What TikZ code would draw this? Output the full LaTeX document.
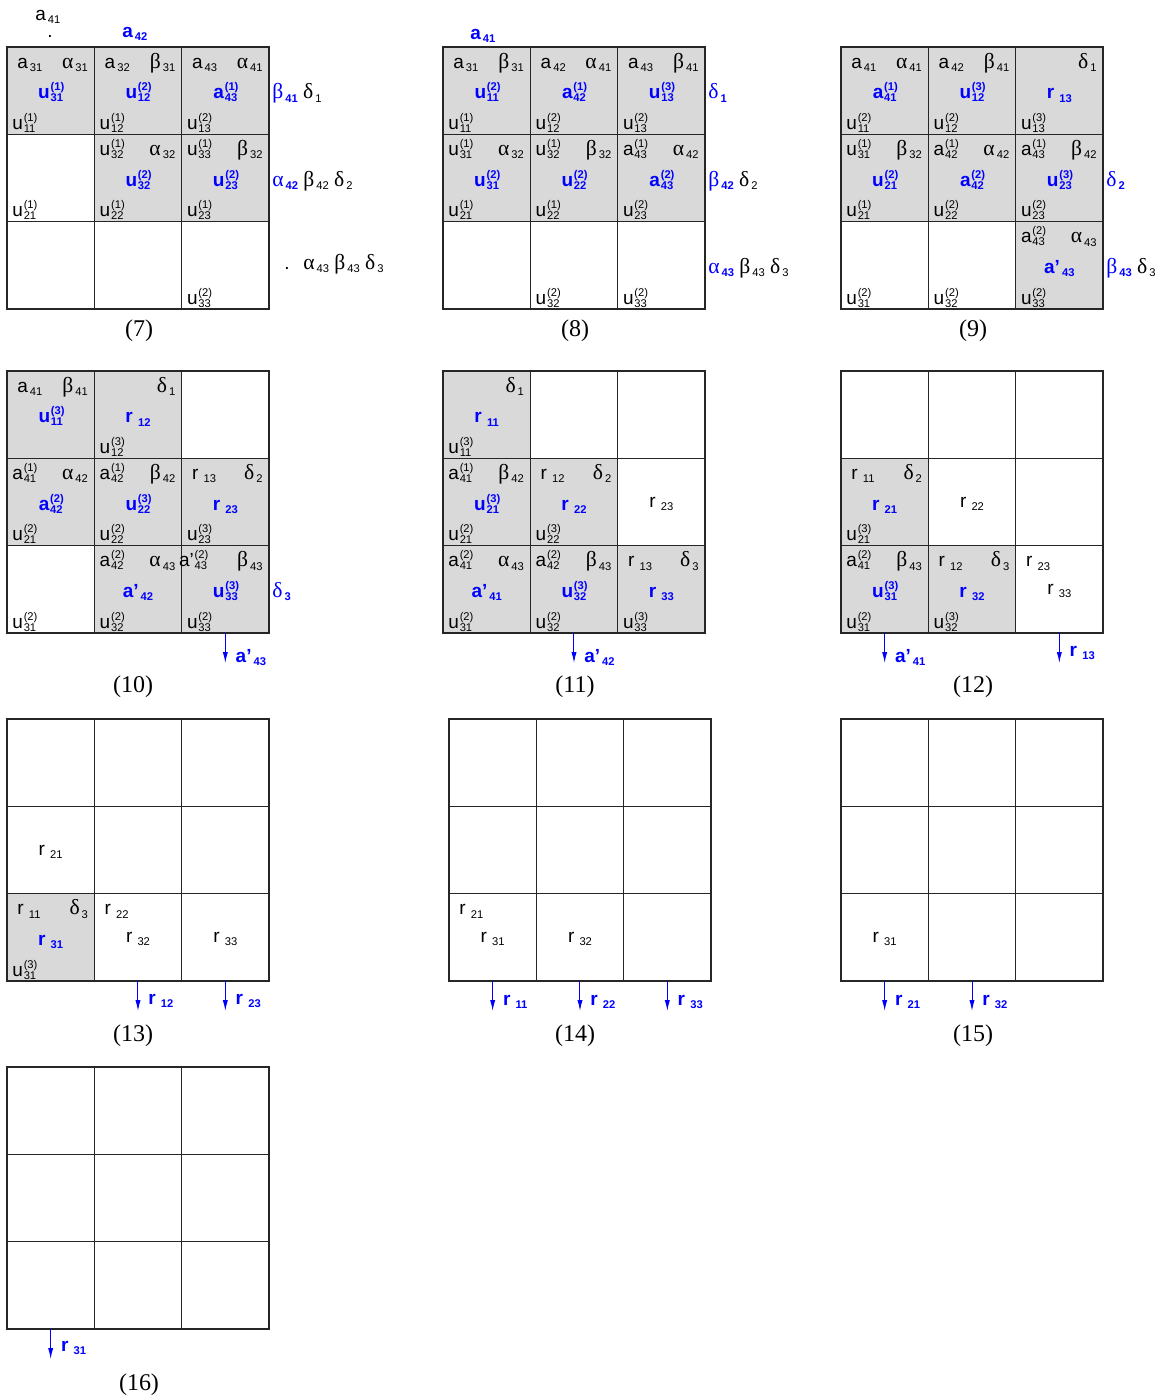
\documentclass[tikz,border=0pt]{standalone}
\usepackage{fontspec}
\setmainfont{Liberation Sans}
\newfontfamily\grkfont{Liberation Serif}
\newfontfamily\capfont{Liberation Serif}
\usetikzlibrary{arrows.meta}

\definecolor{cellgray}{RGB}{217,217,217}
\definecolor{hotblue}{RGB}{0,0,255}

% subscripts, stacked indices, greek letters
\newcommand\subsz{\fontsize{5.6}{6}\selectfont}
\newcommand\lo[1]{\kern1pt\raisebox{-1.8pt}{\subsz #1}}
\newcommand\ud[2]{\kern0.4pt\rlap{\raisebox{4pt}{\subsz(#1)}}\raisebox{-1.5pt}{\subsz #2}}
\newcommand\gk[1]{{\grkfont\fontsize{10.8}{12}\selectfont #1}}
\newcommand\hgk[2]{\textcolor{hotblue}{\gk{#1}\bfseries\lo{#2}}}
\newcommand\rr[1]{r\,\lo{#1}}
\newcommand\ind{\kern2.5pt}

\tikzset{
  cell/.style={draw=black!85, line width=0.65pt, minimum size=43.67pt, inner sep=0pt, outer sep=0pt},
  txt/.style={inner sep=0pt, font=\fontsize{9.5}{10}\selectfont},
  hot/.style={inner sep=0pt, text=hotblue, font=\fontsize{9.5}{10}\selectfont\bfseries},
  stagecap/.style={inner sep=0pt, font=\capfont\fontsize{12}{14}\selectfont},
  outarr/.style={-{Latex[length=5.5pt,width=2.6pt]}, hotblue, line width=0.5pt},
}

% one 3x3 board: name, left, top
\newcommand\grid[3]{%
  \foreach \row in {1,2,3}{\foreach \col in {1,2,3}{%
    \node[cell] (#1-\row\col) at ({#2+(\col-0.5)*87.33},{#3+(\row-0.5)*87.33}) {};}}}
\newcommand\shadecells[2]{\foreach \rc in {#2}{\node[cell, fill=cellgray] at (#1-\rc) {};}}
% texts in a cell
\newcommand\TL[2]{\node[txt, anchor=base west] (#1-tl) at ([shift={(5,21)}]#1.north west) {#2};}
\newcommand\TR[2]{\node[txt, anchor=base east] (#1-tr) at ([shift={(-6,21)}]#1.north east) {#2};}
\newcommand\CT[2]{\node[hot, anchor=base] (#1-ct) at ([shift={(0,8)}]#1.center) {#2};}
\newcommand\CK[2]{\node[txt, anchor=base] (#1-ck) at ([shift={(0,5)}]#1.center) {#2};}
\newcommand\BL[2]{\node[txt, anchor=base west] (#1-bl) at ([shift={(5,-5)}]#1.south west) {#2};}
\newcommand\RT[2]{\node[txt, anchor=base west] (#1-rt) at ([shift={(3,8)}]#1.east) {#2};}
\newcommand\OUT[3]{%
  \coordinate (#1-tip) at ([shift={(0,30)}]#1.south);
  \draw[outarr] (#1.south) -- (#1-tip);
  \node[hot, anchor=base west] (#1-out) at ([shift={(10,#3)}]#1-tip) {#2};}

\begin{document}
\begin{tikzpicture}[x=0.5pt, y=-0.5pt]
\useasboundingbox (0,0) rectangle (1164,1399);

% (7)
\grid{g7}{7}{47}
\shadecells{g7}{11,12,13,22,23}
\TL{g7-11}{\ind a\lo{31}} \TR{g7-11}{\gk{α}\lo{31}} \CT{g7-11}{u\ud{1}{31}} \BL{g7-11}{u\ud{1}{11}}
\TL{g7-12}{\ind a\lo{32}} \TR{g7-12}{\gk{β}\lo{31}} \CT{g7-12}{u\ud{2}{12}} \BL{g7-12}{u\ud{1}{12}}
\TL{g7-13}{\ind a\lo{43}} \TR{g7-13}{\gk{α}\lo{41}} \CT{g7-13}{a\ud{1}{43}} \BL{g7-13}{u\ud{2}{13}}
\BL{g7-21}{u\ud{1}{21}}
\TL{g7-22}{u\ud{1}{32}} \TR{g7-22}{\gk{α}\lo{32}} \CT{g7-22}{u\ud{2}{32}} \BL{g7-22}{u\ud{1}{22}}
\TL{g7-23}{u\ud{1}{33}} \TR{g7-23}{\gk{β}\lo{32}} \CT{g7-23}{u\ud{2}{23}} \BL{g7-23}{u\ud{1}{23}}
\BL{g7-33}{u\ud{2}{33}}
\node[txt, anchor=base west] (g7-a41) at (35,20) {a\lo{41}};
\node[txt, anchor=base] (g7-dot1) at (50,37) {.};
\node[hot, anchor=base west] (g7-a42) at (122,37) {a\lo{42}};
\RT{g7-13}{\hgk{β}{41} \gk{δ}\lo{1}}
\RT{g7-23}{\hgk{α}{42} \gk{β}\lo{42} \gk{δ}\lo{2}}
\node[txt, anchor=base] (g7-dot2) at (287,269) {.};
\node[txt, anchor=base west] (g7-r3) at (303,269) {\gk{α}\lo{43} \gk{β}\lo{43} \gk{δ}\lo{3}};
\node[stagecap] (c7) at (139,331) {(7)};

% (8)
\grid{g8}{443}{47}
\shadecells{g8}{11,12,13,21,22,23}
\TL{g8-11}{\ind a\lo{31}} \TR{g8-11}{\gk{β}\lo{31}} \CT{g8-11}{u\ud{2}{11}} \BL{g8-11}{u\ud{1}{11}}
\TL{g8-12}{\ind a\lo{42}} \TR{g8-12}{\gk{α}\lo{41}} \CT{g8-12}{a\ud{1}{42}} \BL{g8-12}{u\ud{2}{12}}
\TL{g8-13}{\ind a\lo{43}} \TR{g8-13}{\gk{β}\lo{41}} \CT{g8-13}{u\ud{3}{13}} \BL{g8-13}{u\ud{2}{13}}
\TL{g8-21}{u\ud{1}{31}} \TR{g8-21}{\gk{α}\lo{32}} \CT{g8-21}{u\ud{2}{31}} \BL{g8-21}{u\ud{1}{21}}
\TL{g8-22}{u\ud{1}{32}} \TR{g8-22}{\gk{β}\lo{32}} \CT{g8-22}{u\ud{2}{22}} \BL{g8-22}{u\ud{1}{22}}
\TL{g8-23}{a\ud{1}{43}} \TR{g8-23}{\gk{α}\lo{42}} \CT{g8-23}{a\ud{2}{43}} \BL{g8-23}{u\ud{2}{23}}
\BL{g8-32}{u\ud{2}{32}} \BL{g8-33}{u\ud{2}{33}}
\node[hot, anchor=base west] (g8-a41) at (470,39) {a\lo{41}};
\RT{g8-13}{\hgk{δ}{1}}
\RT{g8-23}{\hgk{β}{42} \gk{δ}\lo{2}}
\RT{g8-33}{\hgk{α}{43} \gk{β}\lo{43} \gk{δ}\lo{3}}
\node[stagecap] (c8) at (575,331) {(8)};

% (9)
\grid{g9}{841}{47}
\shadecells{g9}{11,12,13,21,22,23,33}
\TL{g9-11}{\ind a\lo{41}} \TR{g9-11}{\gk{α}\lo{41}} \CT{g9-11}{a\ud{1}{41}} \BL{g9-11}{u\ud{2}{11}}
\TL{g9-12}{\ind a\lo{42}} \TR{g9-12}{\gk{β}\lo{41}} \CT{g9-12}{u\ud{3}{12}} \BL{g9-12}{u\ud{2}{12}}
\TR{g9-13}{\gk{δ}\lo{1}} \CT{g9-13}{\rr{13}} \BL{g9-13}{u\ud{3}{13}}
\TL{g9-21}{u\ud{1}{31}} \TR{g9-21}{\gk{β}\lo{32}} \CT{g9-21}{u\ud{2}{21}} \BL{g9-21}{u\ud{1}{21}}
\TL{g9-22}{a\ud{1}{42}} \TR{g9-22}{\gk{α}\lo{42}} \CT{g9-22}{a\ud{2}{42}} \BL{g9-22}{u\ud{2}{22}}
\TL{g9-23}{a\ud{1}{43}} \TR{g9-23}{\gk{β}\lo{42}} \CT{g9-23}{u\ud{3}{23}} \BL{g9-23}{u\ud{2}{23}}
\BL{g9-31}{u\ud{2}{31}} \BL{g9-32}{u\ud{2}{32}}
\TL{g9-33}{a\ud{2}{43}} \TR{g9-33}{\gk{α}\lo{43}} \CT{g9-33}{a\textquoteright\lo{43}} \BL{g9-33}{u\ud{2}{33}}
\RT{g9-23}{\hgk{δ}{2}}
\RT{g9-33}{\hgk{β}{43} \gk{δ}\lo{3}}
\node[stagecap] (c9) at (973,331) {(9)};

% (10)
\grid{g10}{7}{371}
\shadecells{g10}{11,12,21,22,23,32,33}
\TL{g10-11}{\ind a\lo{41}} \TR{g10-11}{\gk{β}\lo{41}} \CT{g10-11}{u\ud{3}{11}}
\TR{g10-12}{\gk{δ}\lo{1}} \CT{g10-12}{\rr{12}} \BL{g10-12}{u\ud{3}{12}}
\TL{g10-21}{a\ud{1}{41}} \TR{g10-21}{\gk{α}\lo{42}} \CT{g10-21}{a\ud{2}{42}} \BL{g10-21}{u\ud{2}{21}}
\TL{g10-22}{a\ud{1}{42}} \TR{g10-22}{\gk{β}\lo{42}} \CT{g10-22}{u\ud{3}{22}} \BL{g10-22}{u\ud{2}{22}}
\TL{g10-23}{\ind\rr{13}} \TR{g10-23}{\gk{δ}\lo{2}} \CT{g10-23}{\rr{23}} \BL{g10-23}{u\ud{3}{23}}
\BL{g10-31}{u\ud{2}{31}}
\TL{g10-32}{a\ud{2}{42}} \TR{g10-32}{\gk{α}\lo{43}} \CT{g10-32}{a\textquoteright\lo{42}} \BL{g10-32}{u\ud{2}{32}}
\TL{g10-33}{\kern-4pt a\textquoteright\ud{2}{43}} \TR{g10-33}{\gk{β}\lo{43}} \CT{g10-33}{u\ud{3}{33}} \BL{g10-33}{u\ud{2}{33}}
\RT{g10-33}{\hgk{δ}{3}}
\OUT{g10-33}{a\textquoteright\lo{43}}{-1}
\node[stagecap] (c10) at (133,687) {(10)};

% (11)
\grid{g11}{443}{371}
\shadecells{g11}{11,21,22,31,32,33}
\TR{g11-11}{\gk{δ}\lo{1}} \CT{g11-11}{\rr{11}} \BL{g11-11}{u\ud{3}{11}}
\TL{g11-21}{a\ud{1}{41}} \TR{g11-21}{\gk{β}\lo{42}} \CT{g11-21}{u\ud{3}{21}} \BL{g11-21}{u\ud{2}{21}}
\TL{g11-22}{\ind\rr{12}} \TR{g11-22}{\gk{δ}\lo{2}} \CT{g11-22}{\rr{22}} \BL{g11-22}{u\ud{3}{22}}
\CK{g11-23}{\rr{23}}
\TL{g11-31}{a\ud{2}{41}} \TR{g11-31}{\gk{α}\lo{43}} \CT{g11-31}{a\textquoteright\lo{41}} \BL{g11-31}{u\ud{2}{31}}
\TL{g11-32}{a\ud{2}{42}} \TR{g11-32}{\gk{β}\lo{43}} \CT{g11-32}{u\ud{3}{32}} \BL{g11-32}{u\ud{2}{32}}
\TL{g11-33}{\ind\rr{13}} \TR{g11-33}{\gk{δ}\lo{3}} \CT{g11-33}{\rr{33}} \BL{g11-33}{u\ud{3}{33}}
\OUT{g11-32}{a\textquoteright\lo{42}}{-1}
\node[stagecap] (c11) at (575,687) {(11)};

% (12)
\grid{g12}{841}{371}
\shadecells{g12}{21,31,32}
\TL{g12-21}{\ind\rr{11}} \TR{g12-21}{\gk{δ}\lo{2}} \CT{g12-21}{\rr{21}} \BL{g12-21}{u\ud{3}{21}}
\CK{g12-22}{\rr{22}}
\TL{g12-31}{a\ud{2}{41}} \TR{g12-31}{\gk{β}\lo{43}} \CT{g12-31}{u\ud{3}{31}} \BL{g12-31}{u\ud{2}{31}}
\TL{g12-32}{\ind\rr{12}} \TR{g12-32}{\gk{δ}\lo{3}} \CT{g12-32}{\rr{32}} \BL{g12-32}{u\ud{3}{32}}
\TL{g12-33}{\ind\rr{23}} \CK{g12-33}{\rr{33}}
\OUT{g12-31}{a\textquoteright\lo{41}}{-1}
\OUT{g12-33}{\rr{13}}{-7}
\node[stagecap] (c12) at (973,687) {(12)};

% (13)
\grid{g13}{7}{719}
\shadecells{g13}{31}
\CK{g13-21}{\rr{21}}
\TL{g13-31}{\ind\rr{11}} \TR{g13-31}{\gk{δ}\lo{3}} \CT{g13-31}{\rr{31}} \BL{g13-31}{u\ud{3}{31}}
\TL{g13-32}{\ind\rr{22}} \CK{g13-32}{\rr{32}}
\CK{g13-33}{\rr{33}}
\OUT{g13-32}{\rr{12}}{-7}
\OUT{g13-33}{\rr{23}}{-7}
\node[stagecap] (c13) at (133,1036) {(13)};

% (14)
\grid{g14}{449}{719}
\TL{g14-31}{\ind\rr{21}} \CK{g14-31}{\rr{31}}
\CK{g14-32}{\rr{32}}
\OUT{g14-31}{\rr{11}}{-6}
\OUT{g14-32}{\rr{22}}{-6}
\OUT{g14-33}{\rr{33}}{-6}
\node[stagecap] (c14) at (575,1036) {(14)};

% (15)
\grid{g15}{841}{719}
\CK{g15-31}{\rr{31}}
\OUT{g15-31}{\rr{21}}{-6}
\OUT{g15-32}{\rr{32}}{-6}
\node[stagecap] (c15) at (973,1036) {(15)};

% (16)
\grid{g16}{7}{1067}
\OUT{g16-31}{\rr{31}}{-8}
\node[stagecap] (c16) at (139,1385) {(16)};
\end{tikzpicture}
\end{document}
